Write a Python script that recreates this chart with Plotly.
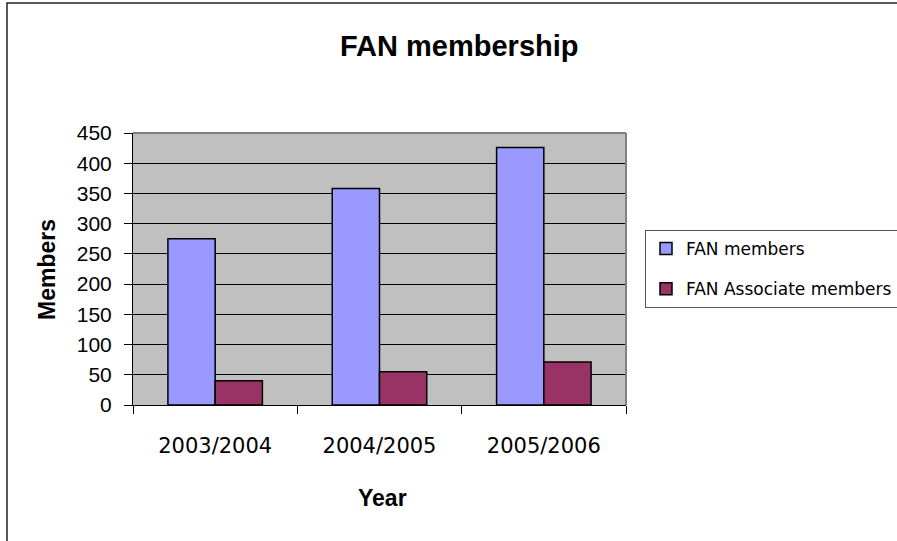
import plotly.graph_objects as go

years = ["2003/2004", "2004/2005", "2005/2006"]
fan_members = [275, 358, 426]
fan_associate = [40, 55, 71]
y_ticks = [0, 50, 100, 150, 200, 250, 300, 350, 400, 450]

fig = go.Figure()
fig.add_trace(go.Bar(
    x=years, y=fan_members, name="FAN members", legendgroup="a",
    marker=dict(color="#9999FF", line=dict(color="black", width=1.5)),
))
fig.add_trace(go.Bar(
    x=years, y=fan_associate, name="FAN Associate members", legendgroup="b",
    marker=dict(color="#993366", line=dict(color="black", width=1.5)),
))

L, R, T, B = 133, 626, 133, 405
W, H = 897, 541
def px(x):
    return (x - L) / (R - L)
def py(y):
    return (B - y) / (B - T)

fig.update_layout(
    width=W, height=H,
    margin=dict(l=L, r=W - R, t=T, b=H - B, pad=0, autoexpand=False),
    paper_bgcolor="white",
    plot_bgcolor="#C0C0C0",
    barmode="group",
    bargap=0.425,
    bargroupgap=0,
    showlegend=True,
    legend=dict(
        x=px(645), y=py(230), xanchor="left", yanchor="top",
        bordercolor="#555555", borderwidth=1, bgcolor="white",
        font=dict(family="DejaVu Sans", size=17, color="black"),
        traceorder="grouped", tracegroupgap=15,
    ),
    xaxis=dict(
        type="category",
        showline=True, linecolor="black", linewidth=1,
        ticks="outside", tickson="boundaries", ticklen=8, tickcolor="black",
        tickfont=dict(family="DejaVu Sans", size=21, color="black"),
        ticklabelstandoff=22,
        showgrid=False,
    ),
    yaxis=dict(
        range=[0, 450],
        tickvals=y_ticks,
        showline=True, linecolor="black", linewidth=1,
        ticks="outside", ticklen=8, tickcolor="black",
        tickfont=dict(family="Liberation Sans", size=21, color="black"),
        ticklabelstandoff=8,
        showgrid=True, gridcolor="black", gridwidth=1,
        zeroline=False,
    ),
    annotations=[
        dict(text="<b>FAN membership</b>", x=px(459), y=py(46), xref="paper", yref="paper",
             showarrow=False, xanchor="center", yanchor="middle",
             font=dict(family="Liberation Sans", size=29, color="black")),
        dict(text="<b>Members</b>", x=px(47), y=py(270), xref="paper", yref="paper",
             showarrow=False, textangle=-90, xanchor="center", yanchor="middle",
             font=dict(family="Liberation Sans", size=23, color="black")),
        dict(text="<b>Year</b>", x=px(382), y=py(498), xref="paper", yref="paper",
             showarrow=False, xanchor="center", yanchor="middle",
             font=dict(family="Liberation Sans", size=23, color="black")),
    ],
    shapes=[
        dict(type="line", xref="paper", yref="paper", x0=0, x1=1, y0=1, y1=1,
             line=dict(color="#808080", width=2), layer="above"),
        dict(type="line", xref="paper", yref="paper", x0=1, x1=1, y0=0, y1=1,
             line=dict(color="#808080", width=2), layer="above"),
        dict(type="rect", xref="paper", yref="paper", x0=px(7), x1=px(910), y0=py(550), y1=py(3),
             line=dict(color="#222222", width=1.5), fillcolor="rgba(0,0,0,0)", layer="below"),
    ],
)

fig.write_html(
    "out.html",
    config={"displayModeBar": False},
    post_script="document.body.style.margin='0';document.body.style.overflow='hidden';",
)
